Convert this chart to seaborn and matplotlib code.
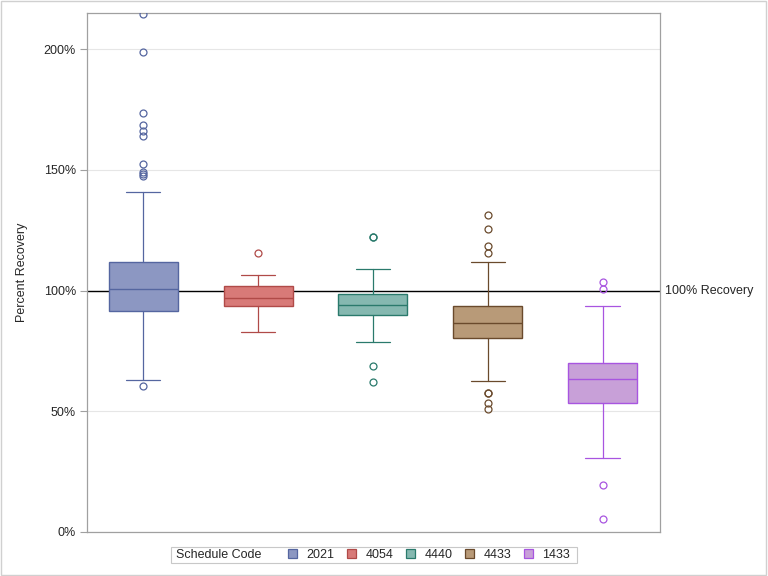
import matplotlib
matplotlib.use("Agg")
import matplotlib.pyplot as plt
from matplotlib.patches import Patch, Rectangle
from matplotlib.ticker import FuncFormatter
import seaborn as sns

# Schedule codes in plotting order
codes = ["2021", "4054", "4440", "4433", "1433"]

# Box summary values (percent recovery)
whislo = [63.0, 82.9, 78.7, 62.5, 30.8]
q1 = [91.6, 93.6, 89.9, 80.4, 53.4]
med = [100.5, 97.1, 94.0, 86.6, 63.4]
q3 = [111.9, 102.0, 98.6, 93.6, 70.0]
whishi = [141.0, 106.5, 109.0, 111.9, 93.8]
outliers = [
    [214.5, 199.0, 173.5, 168.5, 166.0, 164.0, 152.5, 149.0, 148.5, 147.5, 60.5],
    [115.6],
    [122.3, 122.3, 68.8, 62.1],
    [131.4, 125.6, 118.5, 115.6, 57.5, 57.5, 53.4, 50.9],
    [103.6, 100.8, 19.4, 5.3],
]

fills = ["#8C97C2", "#D87A78", "#85B8B0", "#B89A78", "#C8A0D8"]
edges = ["#5566A0", "#B04A48", "#2A7A6C", "#6A4A2C", "#A855E0"]

sns.set_style("white")
plt.rcParams["font.family"] = ["Liberation Sans", "DejaVu Sans"]

fig = plt.figure(figsize=(7.68, 5.76), dpi=100)
ax = fig.add_axes([87 / 768, 1 - 532 / 576, 573 / 768, 519 / 576])

stats = []
for i, c in enumerate(codes):
    stats.append(dict(label=c, whislo=whislo[i], q1=q1[i], med=med[i],
                      q3=q3[i], whishi=whishi[i], fliers=outliers[i]))

for i, s in enumerate(stats):
    ax.bxp([s], positions=[i], widths=0.6, patch_artist=True,
           boxprops=dict(facecolor=fills[i], edgecolor=edges[i], linewidth=1.0),
           medianprops=dict(color=edges[i], linewidth=1.0),
           whiskerprops=dict(color=edges[i], linewidth=0.9),
           capprops=dict(color=edges[i], linewidth=0.9),
           capwidths=0.3,
           flierprops=dict(marker="o", markerfacecolor="none",
                           markeredgecolor=edges[i], markersize=5.0,
                           markeredgewidth=0.9),
           zorder=3)

# reference line
ax.axhline(100, color="black", linewidth=1.0, zorder=2)
ax.text(1.008, 100, "100% Recovery", transform=ax.get_yaxis_transform(),
        ha="left", va="center", fontsize=9, clip_on=False)

ax.set_xlim(-0.49, 4.5)
ax.set_ylim(0, 215)
ax.set_yticks([0, 50, 100, 150, 200])
ax.yaxis.set_major_formatter(FuncFormatter(lambda v, p: "%d%%" % v))
ax.set_xticks([])
ax.grid(axis="y", color="#E6E6E6", linewidth=0.8, zorder=0)
ax.set_axisbelow(True)
ax.tick_params(axis="y", left=True, length=5, width=0.8, color="#A0A0A0",
               labelsize=9, pad=3)
for sp in ax.spines.values():
    sp.set_color("#A0A0A0")
    sp.set_linewidth(0.9)
ax.set_ylabel("Percent Recovery", fontsize=9)
ax.yaxis.set_label_coords(-0.103, 0.5)

# legend at the bottom: framed box, inline title, then the five entries
fig.patches.append(Rectangle((170.5 / 768, 1 - 562.5 / 576), 406 / 768, 15.5 / 576,
                             transform=fig.transFigure, fill=False,
                             edgecolor="#C8C8C8", linewidth=0.8))
fig.text(176.5 / 768, 1 - 554.5 / 576, "Schedule Code", fontsize=9,
         ha="left", va="center")
handles = [Patch(facecolor=f, edgecolor=e, linewidth=0.9)
           for f, e in zip(fills, edges)]
fig.legend(handles, codes, loc="center left", ncol=5,
           bbox_to_anchor=(288 / 768, 1 - 554.5 / 576), fontsize=9,
           frameon=False, handlelength=0.75, handleheight=0.75,
           handletextpad=0.72, columnspacing=1.01, borderpad=0,
           borderaxespad=0)

# outer graph border
fig.patches.append(Rectangle((0.001, 0.001), 0.997, 0.997,
                             transform=fig.transFigure, fill=False,
                             edgecolor="#D0D0D0", linewidth=1.0))

fig.savefig("out.png", dpi=100)
